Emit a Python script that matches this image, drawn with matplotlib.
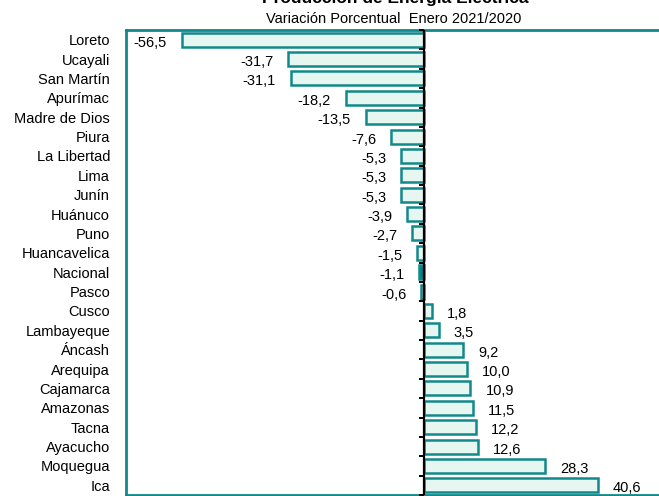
import numpy as np
import matplotlib
matplotlib.use('Agg')
import matplotlib.pyplot as plt
from matplotlib import font_manager

regiones = ['Loreto', 'Ucayali', 'San Martín', 'Apurímac', 'Madre de Dios', 'Piura',
            'La Libertad', 'Lima', 'Junín', 'Huánuco', 'Puno', 'Huancavelica',
            'Nacional', 'Pasco', 'Cusco', 'Lambayeque', 'Áncash', 'Arequipa',
            'Cajamarca', 'Amazonas', 'Tacna', 'Ayacucho', 'Moquegua', 'Ica']
variacion = [-56.5, -31.7, -31.1, -18.2, -13.5, -7.6, -5.3, -5.3, -5.3, -3.9, -2.7, -1.5,
             -1.1, -0.6, 1.8, 3.5, 9.2, 10.0, 10.9, 11.5, 12.2, 12.6, 28.3, 40.6]
titulo = 'Producción de Energía Eléctrica'
subtitulo = 'Variación Porcentual  Enero 2021/2020'

names = {f.name for f in font_manager.fontManager.ttflist}
fam = 'Liberation Sans' if 'Liberation Sans' in names else 'DejaVu Sans'
plt.rcParams['font.family'] = [fam, 'DejaVu Sans']

teal = '#11898a'
fill = '#e6f7f1'
dark = '#00827e'

fig = plt.figure(figsize=(6.59, 4.96), dpi=100)
ax = fig.add_axes([126/659, 1/496, 576/659, 465/496])

n = len(regiones)
pos = np.arange(n)
colores = [dark if r == 'Nacional' else fill for r in regiones]
ax.barh(pos, variacion, height=0.72, color=colores, edgecolor=teal, linewidth=1.8, zorder=2)

ax.set_xlim(-69.6, 65)
ax.set_ylim(n - 0.5, -0.5)

# linea del cero con marcas entre categorias
ax.axvline(0, color='black', lw=1.6, zorder=3)
ax.hlines(np.arange(n + 1) - 0.5, -1.2, 0, color='black', lw=1.4, zorder=3, clip_on=False)

for i, v in enumerate(variacion):
    txt = f'{v:.1f}'.replace('.', ',')
    if v < 0:
        ax.annotate(txt, xy=(v, i), xytext=(-15, -3), textcoords='offset pixels',
                    ha='right', va='center', fontsize=10.5)
    else:
        ax.annotate(txt, xy=(v, i), xytext=(15, -3), textcoords='offset pixels',
                    ha='left', va='center', fontsize=10.5)

ax.set_yticks(pos)
ax.set_yticklabels(regiones, fontsize=10.5)
ax.tick_params(axis='y', length=0, pad=11.5)
ax.set_xticks([])
for s in ax.spines.values():
    s.set_color(teal)
    s.set_linewidth(2)

fig.text(395/659, 1 - 3/496, titulo, ha='center', va='baseline', fontsize=12.5, fontweight='bold')
fig.text(394/659, 1 - 19/496, subtitulo, ha='center', va='center', fontsize=10.5)

plt.savefig('out.png', dpi=100)
